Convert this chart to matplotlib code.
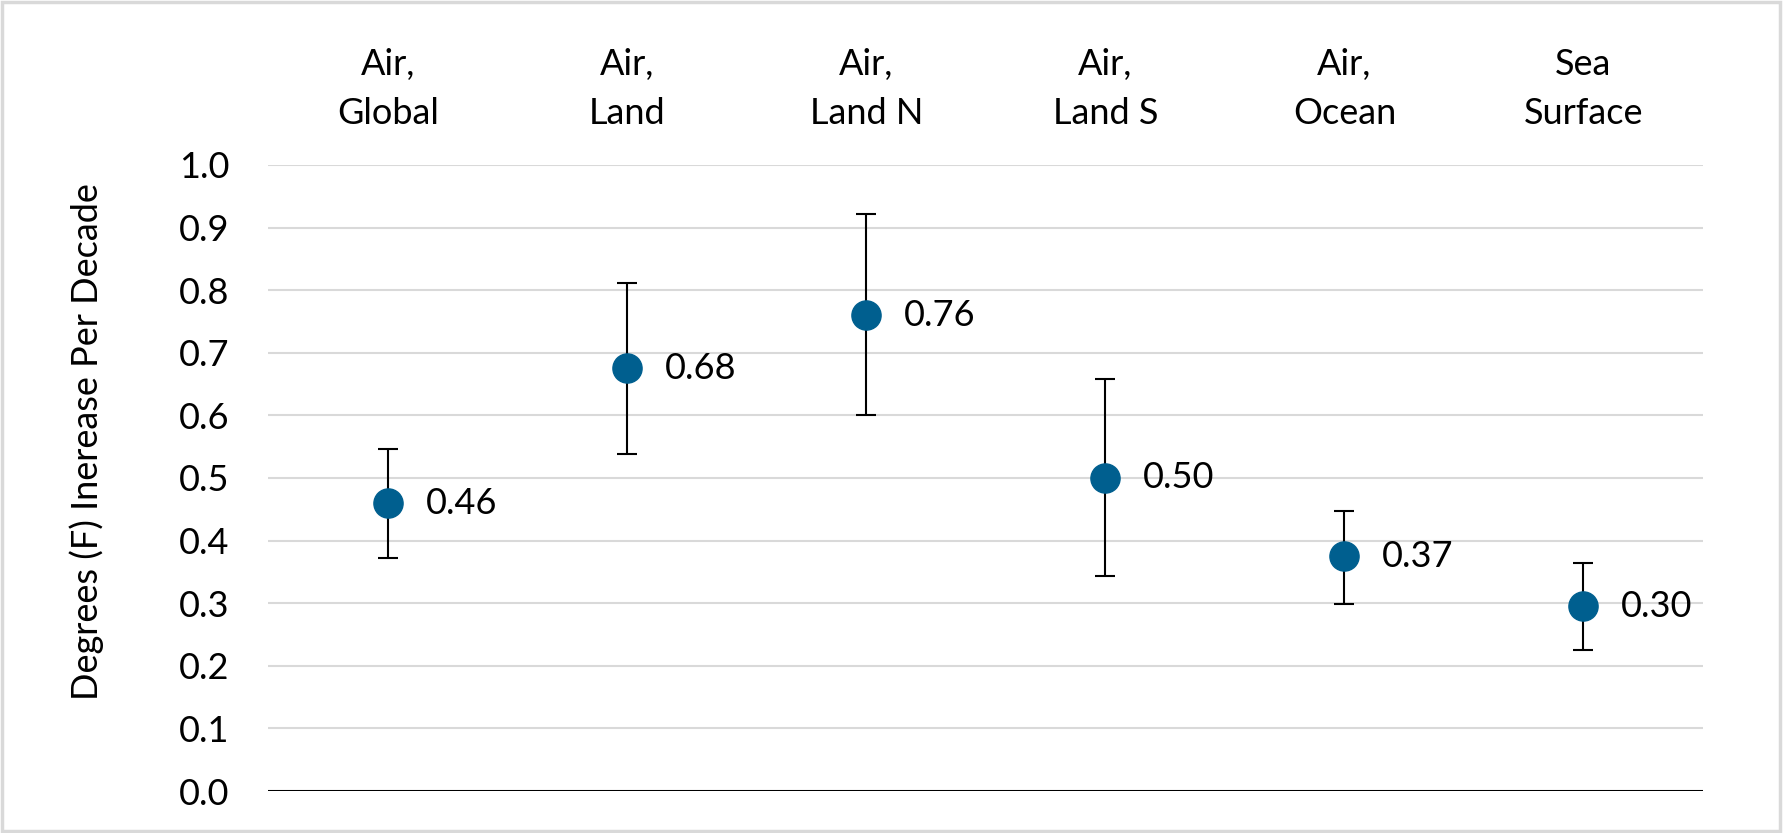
import numpy as np
import matplotlib.pyplot as plt
from matplotlib.patches import Rectangle

# data
categories = ["Air,\nGlobal", "Air,\nLand", "Air,\nLand N", "Air,\nLand S", "Air,\nOcean", "Sea\nSurface"]
trend = [0.46, 0.675, 0.76, 0.50, 0.375, 0.295]
upper = [0.546, 0.811, 0.921, 0.658, 0.448, 0.364]
lower = [0.372, 0.539, 0.600, 0.343, 0.299, 0.226]
value_labels = ["0.46", "0.68", "0.76", "0.50", "0.37", "0.30"]
yticks = [0.0, 0.1, 0.2, 0.3, 0.4, 0.5, 0.6, 0.7, 0.8, 0.9, 1.0]

plt.rcParams['font.family'] = ['Lato', 'DejaVu Sans']
dot_color = '#005F8F'
fs = 26

fig = plt.figure(figsize=(17.84, 8.33), dpi=100)
ax = fig.add_axes([0.1505, 0.0504, 0.8041, 0.7516])

x = np.arange(len(categories))
y = np.array(trend)
yerr = [y - np.array(lower), np.array(upper) - y]
ax.errorbar(x, y, yerr=yerr, fmt='none', ecolor='black', elinewidth=1.5,
            capsize=7.5, capthick=1.5, zorder=3)
ax.plot(x, y, 'o', color=dot_color, markersize=21, zorder=4)

for xi, yi, lab in zip(x, y, value_labels):
    ax.annotate(lab, (xi, yi), xytext=(27, 0), textcoords='offset points',
                ha='left', va='center', fontsize=fs)

ax.set_xlim(-0.5, len(categories) - 0.5)
ax.set_ylim(0, 1.0)
ax.set_yticks(yticks)
ax.set_yticklabels([f"{t:.1f}" for t in yticks])
ax.yaxis.grid(True, color='#d9d9d9', linewidth=1.5)
ax.set_axisbelow(True)
ax.axhline(0, color='black', linewidth=2.2, zorder=2)

ax.xaxis.tick_top()
ax.set_xticks(x)
ax.set_xticklabels(categories, fontsize=fs, linespacing=1.6)
ax.tick_params(axis='x', length=0, pad=25)
ax.tick_params(axis='y', length=0, pad=28, labelsize=fs)

for s in ax.spines.values():
    s.set_visible(False)

ax.set_ylabel("Degrees (F) Inerease Per Decade", fontsize=fs, labelpad=54)
ax.yaxis.label.set_y(0.558)

fig.patches.append(Rectangle((0.001, 0.002), 0.997, 0.995, transform=fig.transFigure,
                             fill=False, edgecolor='#d9d9d9', linewidth=2.5))

fig.savefig("out.png", dpi=100)
